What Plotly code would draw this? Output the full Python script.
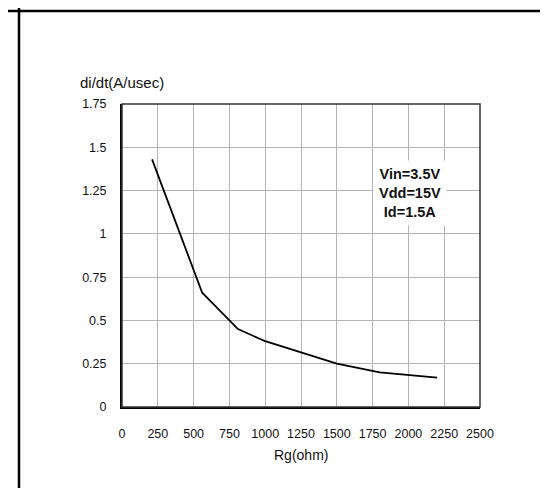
import plotly.graph_objects as go

# Data
rg_ohm = [210, 560, 810, 1000, 1500, 1800, 2200]
didt = [1.43, 0.66, 0.45, 0.38, 0.25, 0.20, 0.17]
x_ticks = [0, 250, 500, 750, 1000, 1250, 1500, 1750, 2000, 2250, 2500]
y_ticks = [0, 0.25, 0.5, 0.75, 1, 1.25, 1.5, 1.75]
conditions = ["Vin=3.5V", "Vdd=15V", "Id=1.5A"]

W, H = 548, 488
L, R, T, B = 114, 76, 96, 89
pw, ph = W - L - R, H - T - B

def px_x(p):
    return (p - L) / pw

def px_y(p):
    return (H - B - p) / ph

FONT = "Liberation Sans, Arial, sans-serif"
GRID = "#b4b4b4"

fig = go.Figure()
fig.add_trace(go.Scatter(
    x=rg_ohm, y=didt, mode="lines",
    line=dict(color="black", width=1.8),
    showlegend=False, hoverinfo="skip",
))

fig.update_layout(
    width=W, height=H,
    margin=dict(l=L, r=R, t=T, b=B, pad=0),
    paper_bgcolor="white", plot_bgcolor="white",
    font=dict(family=FONT, size=12, color="#111"),
    xaxis=dict(
        range=[0, 2500], tickvals=x_ticks, ticktext=[str(v) for v in x_ticks],
        showgrid=True, gridcolor=GRID, gridwidth=1, zeroline=False,
        showline=True, linecolor="black", linewidth=2,
        ticks="", ticklabelstandoff=14,
        tickfont=dict(family=FONT, size=12.5, color="#111"),
        fixedrange=True,
    ),
    yaxis=dict(
        range=[0, 1.75], tickvals=y_ticks, ticktext=[f"{v:g}" for v in y_ticks],
        showgrid=True, gridcolor=GRID, gridwidth=1, zeroline=False,
        showline=True, linecolor="black", linewidth=2,
        ticks="", ticklabelstandoff=11,
        tickfont=dict(family=FONT, size=12.5, color="#111"),
        fixedrange=True,
    ),
    shapes=[
        dict(type="rect", xref="paper", yref="paper", x0=0, y0=0, x1=1, y1=1,
             line=dict(color="#333", width=1.5), layer="above"),
        dict(type="line", xref="paper", yref="paper",
             x0=px_x(0), x1=px_x(W), y0=px_y(3), y1=px_y(3),
             line=dict(color="black", width=2.5)),
        dict(type="line", xref="paper", yref="paper",
             x0=px_x(11), x1=px_x(11), y0=px_y(0), y1=px_y(H),
             line=dict(color="black", width=2.5)),
    ],
    annotations=[
        dict(text="di/dt(A/usec)", xref="paper", yref="paper",
             x=px_x(70), y=px_y(75), xanchor="left", yanchor="middle",
             showarrow=False, font=dict(family=FONT, size=15, color="#111")),
        dict(text="Rg(ohm)", xref="paper", yref="paper",
             x=0.5, y=px_y(447), xanchor="center", yanchor="middle",
             showarrow=False, font=dict(family=FONT, size=14, color="#111")),
        dict(text="<br>".join(f"<b>{c}</b>" for c in conditions),
             xref="paper", yref="paper",
             x=px_x(402), y=px_y(184.5), xanchor="center", yanchor="middle",
             showarrow=False, align="center", bgcolor="white", borderpad=5,
             font=dict(family=FONT, size=14.5, color="#111")),
    ],
)

fig.write_html("out.html")
